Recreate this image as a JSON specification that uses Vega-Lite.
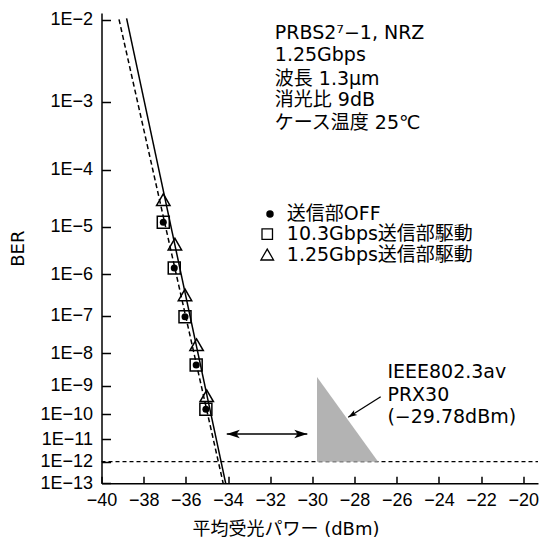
{
  "$schema": "https://vega.github.io/schema/vega-lite/v6.json",
  "width": 436.5,
  "height": 470.3,
  "autosize": {"type": "none"},
  "padding": {"left": 101.5, "top": 13, "right": 4, "bottom": 57},
  "background": "white",
  "config": {
    "view": {"stroke": null},
    "axis": {
      "grid": false,
      "domainColor": "black",
      "domainWidth": 1.5,
      "tickColor": "black",
      "tickWidth": 1.5,
      "labelColor": "black",
      "titleColor": "black",
      "labelFont": "Liberation Sans",
      "labelFontSize": 18,
      "labelOverlap": false,
      "labelBound": false,
      "labelFlush": false,
      "titleFont": "DejaVu Sans, Noto Sans CJK JP",
      "titleFontSize": 18,
      "titleFontWeight": "normal"
    }
  },
  "datasets": {
    "points": [
      {"series": "10.3G", "x": -37.07, "ber": 1.2e-5},
      {"series": "10.3G", "x": -36.55, "ber": 1.35e-6},
      {"series": "10.3G", "x": -36.04, "ber": 9.6e-8},
      {"series": "10.3G", "x": -35.51, "ber": 4.4e-9},
      {"series": "10.3G", "x": -35.05, "ber": 1.5e-10},
      {"series": "OFF", "x": -37.07, "ber": 1.2e-5},
      {"series": "OFF", "x": -36.55, "ber": 1.35e-6},
      {"series": "OFF", "x": -36.04, "ber": 9.6e-8},
      {"series": "OFF", "x": -35.51, "ber": 4.4e-9},
      {"series": "OFF", "x": -35.05, "ber": 1.5e-10},
      {"series": "1.25G", "x": -37.07, "ber": 3.0e-5},
      {"series": "1.25G", "x": -36.52, "ber": 4.3e-6},
      {"series": "1.25G", "x": -36.04, "ber": 3.2e-7},
      {"series": "1.25G", "x": -35.49, "ber": 1.7e-8},
      {"series": "1.25G", "x": -35.01, "ber": 4.5e-10}
    ],
    "key": [
      {"series": "OFF", "x": -32.01, "ber": 1.67e-5},
      {"series": "10.3G", "x": -32.14, "ber": 7.0e-6},
      {"series": "1.25G", "x": -32.14, "ber": 2.6e-6}
    ],
    "fits": [
      {"fit": "solid", "x": -38.81, "ber": 0.0105},
      {"fit": "solid", "x": -34.11, "ber": 1e-13},
      {"fit": "dashed", "x": -39.17, "ber": 0.0102},
      {"fit": "dashed", "x": -34.23, "ber": 1e-13}
    ],
    "limit": [{"x": -40, "x2": -19.3, "ber": 1e-12}],
    "prx": [
      {"x": -29.78, "ber": 1.9e-9, "ber2": 1e-12},
      {"x": -26.88, "ber": 1e-12, "ber2": 1e-12}
    ],
    "arrows": [
      {"name": "span", "x": -34.06, "ber": 1.63e-11, "x2": -30.24, "ber2": 1.63e-11},
      {"name": "pointer", "x": -26.76, "ber": 4.19e-10, "x2": -28.30, "ber2": 7.6e-11}
    ],
    "heads": [
      {"head": "left", "x": -34.06, "ber": 1.63e-11},
      {"head": "right", "x": -30.24, "ber": 1.63e-11},
      {"head": "pointer", "x": -28.30, "ber": 7.6e-11}
    ],
    "notes": [
      {"x": -31.78, "ber": 7.0e-3, "text": "PRBS2⁷−1, NRZ"},
      {"x": -31.78, "ber": 3.73e-3, "text": "1.25Gbps"},
      {"x": -31.78, "ber": 1.88e-3, "text": "波長 1.3μm"},
      {"x": -31.78, "ber": 1.05e-3, "text": "消光比 9dB"},
      {"x": -31.78, "ber": 4.8e-4, "text": "ケース温度 25℃"},
      {"x": -31.21, "ber": 1.67e-5, "text": "送信部OFF"},
      {"x": -31.21, "ber": 7.0e-6, "text": "10.3Gbps送信部駆動"},
      {"x": -31.21, "ber": 2.6e-6, "text": "1.25Gbps送信部駆動"},
      {"x": -26.44, "ber": 2.74e-9, "text": "IEEE802.3av"},
      {"x": -26.44, "ber": 4.8e-10, "text": "PRX30"},
      {"x": -26.44, "ber": 8.0e-11, "text": "(−29.78dBm)"}
    ]
  },
  "encoding": {
    "x": {
      "field": "x",
      "type": "quantitative",
      "scale": {"domain": [-40, -19.3], "nice": false, "zero": false},
      "axis": {
        "values": [-40, -38, -36, -34, -32, -30, -28, -26, -24, -22, -20],
        "format": "d",
        "title": "平均受光パワー (dBm)",
        "tickSize": -7,
        "labelPadding": 15,
        "titleX": 184,
        "titleY": 37,
        "titleBaseline": "top"
      }
    },
    "y": {
      "field": "ber",
      "type": "quantitative",
      "scale": {
        "type": "log",
        "nice": false,
        "domain": [1e-13, 1e-12, 1e-11, 1e-10, 1e-9, 1e-8, 1e-7, 1e-6, 1e-5, 1e-4, 1e-3, 1e-2, 0.0122],
        "range": [470.3, 448.7, 426.3, 401.3, 373, 340.3, 303, 261.3, 213.7, 157, 88.7, 7, 0]
      },
      "axis": {
        "values": [1e-2, 1e-3, 1e-4, 1e-5, 1e-6, 1e-7, 1e-8, 1e-9, 1e-10, 1e-11, 1e-12, 1e-13],
        "labelExpr": "'1E−' + round(-log(datum.value)/LN10)",
        "title": "BER",
        "tickSize": -9,
        "labelPadding": 18,
        "titlePadding": 12
      }
    }
  },
  "layer": [
    {
      "data": {"name": "limit"},
      "mark": {"type": "rule", "color": "black", "strokeWidth": 1.2, "strokeDash": [4, 3]},
      "encoding": {"x2": {"field": "x2"}}
    },
    {
      "data": {"name": "prx"},
      "mark": {"type": "area", "color": "#b3b3b3", "opacity": 1},
      "encoding": {"y2": {"field": "ber2"}}
    },
    {
      "data": {"name": "fits"},
      "transform": [{"filter": "datum.fit === 'solid'"}],
      "mark": {"type": "line", "color": "black", "strokeWidth": 1.5}
    },
    {
      "data": {"name": "fits"},
      "transform": [{"filter": "datum.fit === 'dashed'"}],
      "mark": {"type": "line", "color": "black", "strokeWidth": 1.5, "strokeDash": [5, 3]}
    },
    {
      "data": {"name": "points"},
      "transform": [{"filter": "datum.series === '10.3G'"}],
      "mark": {"type": "point", "shape": "square", "size": 144, "filled": false, "color": "black", "strokeWidth": 1.5, "opacity": 1}
    },
    {
      "data": {"name": "points"},
      "transform": [{"filter": "datum.series === 'OFF'"}],
      "mark": {"type": "point", "shape": "circle", "size": 49, "filled": true, "color": "black", "opacity": 1}
    },
    {
      "data": {"name": "points"},
      "transform": [{"filter": "datum.series === '1.25G'"}],
      "mark": {"type": "point", "shape": "triangle-up", "size": 180, "filled": false, "color": "black", "strokeWidth": 1.5, "opacity": 1}
    },
    {
      "data": {"name": "key"},
      "transform": [{"filter": "datum.series === '10.3G'"}],
      "mark": {"type": "point", "shape": "square", "size": 110, "filled": false, "color": "black", "strokeWidth": 1.3, "opacity": 1}
    },
    {
      "data": {"name": "key"},
      "transform": [{"filter": "datum.series === 'OFF'"}],
      "mark": {"type": "point", "shape": "circle", "size": 56, "filled": true, "color": "black", "opacity": 1}
    },
    {
      "data": {"name": "key"},
      "transform": [{"filter": "datum.series === '1.25G'"}],
      "mark": {"type": "point", "shape": "triangle-up", "size": 160, "filled": false, "color": "black", "strokeWidth": 1.3, "opacity": 1}
    },
    {
      "data": {"name": "arrows"},
      "mark": {"type": "rule", "color": "black", "strokeWidth": 1.3},
      "encoding": {"x2": {"field": "x2"}, "y2": {"field": "ber2"}}
    },
    {
      "data": {"name": "heads"},
      "transform": [{"filter": "datum.head === 'left'"}],
      "mark": {"type": "point", "shape": "M0,0L-1,-0.33L-0.75,0L-1,0.33Z", "size": 676, "filled": true, "color": "black", "opacity": 1, "angle": 180}
    },
    {
      "data": {"name": "heads"},
      "transform": [{"filter": "datum.head === 'right'"}],
      "mark": {"type": "point", "shape": "M0,0L-1,-0.33L-0.75,0L-1,0.33Z", "size": 676, "filled": true, "color": "black", "opacity": 1, "angle": 0}
    },
    {
      "data": {"name": "heads"},
      "transform": [{"filter": "datum.head === 'pointer'"}],
      "mark": {"type": "point", "shape": "M0,0L-1,-0.33L-0.75,0L-1,0.33Z", "size": 324, "filled": true, "color": "black", "opacity": 1, "angle": 147.5}
    },
    {
      "data": {"name": "notes"},
      "mark": {"type": "text", "align": "left", "baseline": "middle", "font": "DejaVu Sans, Noto Sans CJK JP", "fontSize": 19, "color": "black"},
      "encoding": {"text": {"field": "text"}}
    }
  ]
}
